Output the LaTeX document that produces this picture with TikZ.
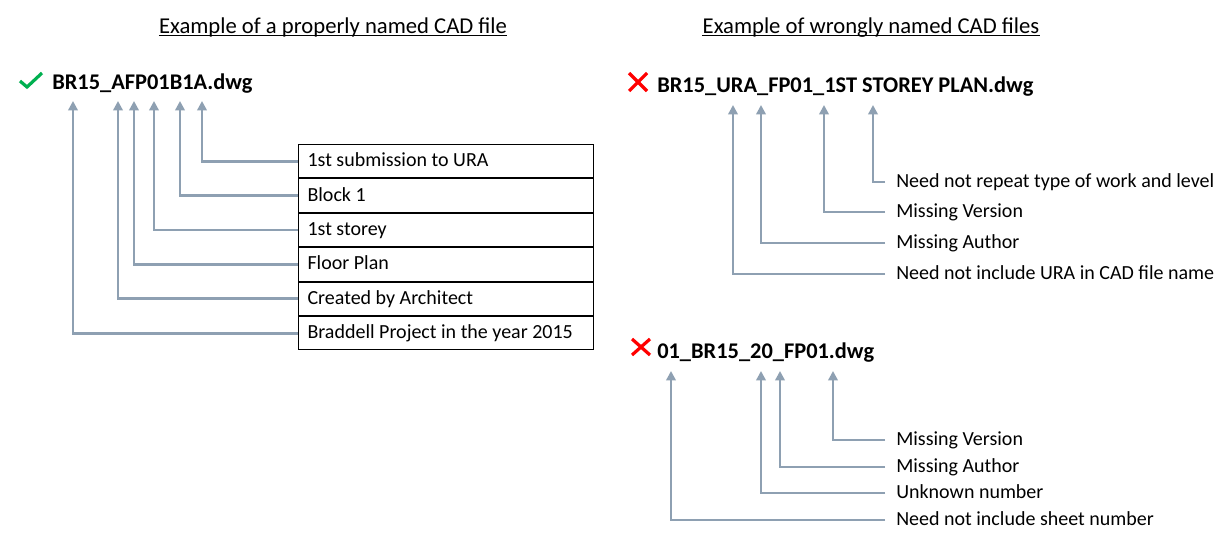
\documentclass[tikz,border=0pt]{standalone}
\usepackage{fontspec}
\setmainfont{Carlito}
\usetikzlibrary{arrows.meta}
\definecolor{arrgray}{HTML}{8EA0B2}
\definecolor{chkgreen}{HTML}{00B050}
\definecolor{crossred}{HTML}{FF0000}
\begin{document}
\begin{tikzpicture}[x=0.75pt,y=-0.75pt,
  conn/.style={draw=arrgray, line width=2.2pt, -{Triangle[width=7pt,length=7pt]}},
  titletext/.style={inner sep=0pt, anchor=base, font=\fontsize{17pt}{20pt}\selectfont},
  fname/.style={inner sep=0pt, anchor=base west, font=\fontsize{16.8pt}{20pt}\selectfont\bfseries},
  lbl/.style={inner sep=0pt, anchor=west, text height=2ex, text depth=0.25ex, font=\fontsize{15pt}{18pt}\selectfont},
  rowbox/.style={draw=black, line width=0.8pt, anchor=north west, minimum height=25pt,
    inner xsep=6.75pt, inner ysep=0pt,
    text height=2ex, text depth=0.25ex, font=\fontsize{15pt}{18pt}\selectfont},
  symstroke/.style={line width=2.4pt}
]
\newcommand\rowtext[1]{\makebox[207.75pt][l]{#1}}
\useasboundingbox (0,0) rectangle (1230,547);
\fill[white] (0,0) rectangle (1230,547);

% titles
\node[titletext] (t1) at (333,33) {Example of a properly named CAD file};
\draw[line width=1.1pt] ([yshift=-1.8pt]t1.base west) -- ([yshift=-1.8pt]t1.base east);
\node[titletext] (t2) at (871,33) {Example of wrongly named CAD files};
\draw[line width=1.1pt] ([yshift=-1.8pt]t2.base west) -- ([yshift=-1.8pt]t2.base east);

% left: properly named
\draw[chkgreen, symstroke] (20,81) -- (27,87) -- (42,73);
\node[fname] (f1) at (52,89) {BR15\_AFP01B1A.dwg};
\coordinate (a1) at (202,101);
\coordinate (a2) at (180,101);
\coordinate (a3) at (154,101);
\coordinate (a4) at (134,101);
\coordinate (a5) at (118,101);
\coordinate (a6) at (73,101);
\node[rowbox] (r1) at (298,144) {\rowtext{1st submission to URA}};
\node[rowbox] (r2) at (r1.south west) {\rowtext{Block 1}};
\node[rowbox] (r3) at (r2.south west) {\rowtext{1st storey}};
\node[rowbox] (r4) at (r3.south west) {\rowtext{Floor Plan}};
\node[rowbox] (r5) at (r4.south west) {\rowtext{Created by Architect}};
\node[rowbox] (r6) at (r5.south west) {\rowtext{Braddell Project in the year 2015}};
\draw[conn] (r1.west) -| (a1);
\draw[conn] (r2.west) -| (a2);
\draw[conn] (r3.west) -| (a3);
\draw[conn] (r4.west) -| (a4);
\draw[conn] (r5.west) -| (a5);
\draw[conn] (r6.west) -| (a6);

% right top
\draw[crossred, symstroke] (629,73) -- (647,91);
\draw[crossred, symstroke] (647,73) -- (629,91);
\node[fname] (f2) at (657,92) {BR15\_URA\_FP01\_1ST STOREY PLAN.dwg};
\coordinate (b1) at (873,105);
\coordinate (b2) at (824,105);
\coordinate (b3) at (761,105);
\coordinate (b4) at (733,105);
\node[lbl] (m1) at (896,182) {Need not repeat type of work and level};
\node[lbl] (m2) at (896,212) {Missing Version};
\node[lbl] (m3) at (896,243) {Missing Author};
\node[lbl] (m4) at (896,274) {Need not include URA in CAD file name};
\draw[conn] ([xshift=-8.25pt]m1.west) -| (b1);
\draw[conn] ([xshift=-8.25pt]m2.west) -| (b2);
\draw[conn] ([xshift=-8.25pt]m3.west) -| (b3);
\draw[conn] ([xshift=-8.25pt]m4.west) -| (b4);

% right bottom
\draw[crossred, symstroke] (632,339) -- (650,355);
\draw[crossred, symstroke] (650,339) -- (632,355);
\node[fname] (f3) at (657,358) {01\_BR15\_20\_FP01.dwg};
\coordinate (c1) at (833,371);
\coordinate (c2) at (780,371);
\coordinate (c3) at (761,371);
\coordinate (c4) at (671,371);
\node[lbl] (n1) at (896,440) {Missing Version};
\node[lbl] (n2) at (896,467) {Missing Author};
\node[lbl] (n3) at (896,493) {Unknown number};
\node[lbl] (n4) at (896,520) {Need not include sheet number};
\draw[conn] ([xshift=-8.25pt]n1.west) -| (c1);
\draw[conn] ([xshift=-8.25pt]n2.west) -| (c2);
\draw[conn] ([xshift=-8.25pt]n3.west) -| (c3);
\draw[conn] ([xshift=-8.25pt]n4.west) -| (c4);
\end{tikzpicture}
\end{document}
